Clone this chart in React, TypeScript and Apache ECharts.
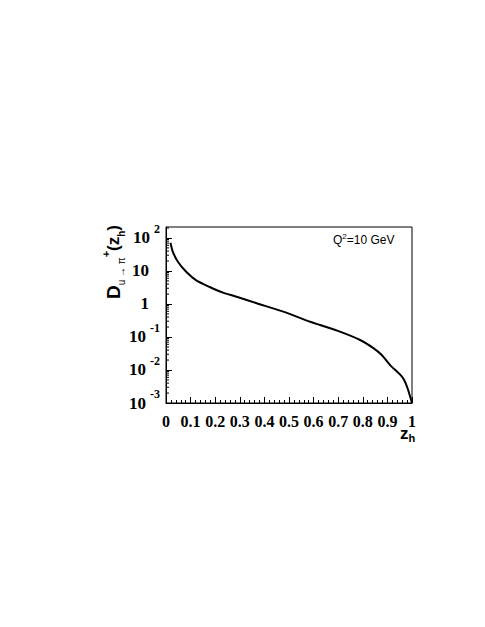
import React, { useEffect, useRef } from "react";
import * as echarts from "echarts";

const zValues = [0.018, 0.028, 0.049, 0.083, 0.123, 0.178, 0.232, 0.287, 0.369, 0.477, 0.585, 0.626, 0.707, 0.789, 0.843, 0.877, 0.911, 0.953, 0.968, 0.982, 1.0];
const dValues = [72, 37.7, 18.7, 9.3, 5.2, 3.27, 2.2, 1.66, 1.05, 0.585, 0.29, 0.23, 0.145, 0.081, 0.046, 0.0285, 0.0141, 0.0071, 0.005, 0.0028, 0.001];
const yMin = 0.001;
const yMax = 215;
const xTickLabels = ["0", "0.1", "0.2", "0.3", "0.4", "0.5", "0.6", "0.7", "0.8", "0.9", "1"];
const yMinorTickValues: number[] = [];
for (let k = -3; k <= 2; k++) {
  for (let m = 2; m <= 9; m++) {
    const v = m * Math.pow(10, k);
    if (v < yMax) yMinorTickValues.push(v);
  }
}

export default function App() {
  const ref = useRef<HTMLDivElement>(null);
  useEffect(() => {
    if (!ref.current) return;
    const chart = echarts.init(ref.current, null, { renderer: "svg" });
    const serif = "Liberation Serif";
    const sans = "Liberation Sans";
    chart.setOption({
      animation: false,
      backgroundColor: "#fff",
      grid: {
        left: 166,
        top: 227,
        width: 246,
        height: 176,
        show: true,
        borderColor: "#000",
        borderWidth: 1,
        backgroundColor: "transparent",
      },
      xAxis: {
        type: "value",
        min: 0,
        max: 1,
        interval: 0.1,
        axisLine: { show: true, onZero: false, lineStyle: { color: "#000", width: 1 } },
        axisTick: { show: true, inside: true, length: 6, lineStyle: { color: "#000" } },
        minorTick: { show: true, splitNumber: 5, length: 3, lineStyle: { color: "#000" } },
        splitLine: { show: false },
        axisLabel: {
          margin: 10,
          fontFamily: serif,
          fontWeight: "bold",
          fontSize: 16,
          color: "#000",
          formatter: (v: number) => xTickLabels[Math.round(v * 10)] ?? "",
        },
      },
      yAxis: {
        type: "log",
        logBase: 10,
        min: yMin,
        max: yMax,
        axisLine: { show: true, lineStyle: { color: "#000", width: 1 } },
        axisTick: { show: true, inside: true, length: 6, lineStyle: { color: "#000" } },
        splitLine: { show: false },
        axisLabel: {
          margin: 6,
          showMaxLabel: false,
          color: "#000",
          formatter: (v: number) => {
            const e = Math.log10(v);
            const r = Math.round(e);
            if (Math.abs(e - r) > 1e-6) return "";
            if (r === 0) return "{b|1}{pad|}";
            if (r === 1) return "{b|10}{pad|}";
            return "{b|10}{e|" + r + "}";
          },
          rich: {
            b: { fontFamily: serif, fontWeight: "bold", fontSize: 17, lineHeight: 30, color: "#000" },
            e: { fontFamily: serif, fontWeight: "bold", fontSize: 12, lineHeight: 12, verticalAlign: "top", color: "#000", padding: [0, 0, 0, 4] },
            pad: { width: 11 },
          },
        },
      },
      graphic: [
        {
          type: "text",
          x: 113,
          y: 262,
          rotation: Math.PI / 2,
          style: {
            text: "{D|D}{s|u → π}{p|+}{n|(z}{s2|h}{n|)}",
            align: "center",
            verticalAlign: "middle",
            fill: "#000",
            rich: {
              D: { fontFamily: sans, fontWeight: "bold", fontSize: 19, lineHeight: 26, fill: "#000" },
              s: { fontFamily: sans, fontSize: 10, lineHeight: 12, verticalAlign: "bottom", fill: "#000" },
              p: { fontFamily: sans, fontWeight: "bold", fontSize: 11, lineHeight: 12, verticalAlign: "top", fill: "#000" },
              n: { fontFamily: sans, fontWeight: "bold", fontSize: 17, lineHeight: 26, fill: "#000" },
              s2: { fontFamily: sans, fontWeight: "bold", fontSize: 10, lineHeight: 12, verticalAlign: "bottom", fill: "#000" },
            },
          },
        },
        {
          type: "text",
          x: 333,
          y: 240,
          style: {
            text: "{q|Q}{t|2}{q|=10 GeV}",
            verticalAlign: "middle",
            fill: "#000",
            rich: {
              q: { fontFamily: sans, fontSize: 12, lineHeight: 16, fill: "#000" },
              t: { fontFamily: sans, fontSize: 8, lineHeight: 10, verticalAlign: "top", fill: "#000" },
            },
          },
        },
        {
          type: "text",
          x: 400,
          y: 433,
          style: {
            text: "{z|z}{h|h}",
            verticalAlign: "middle",
            fill: "#000",
            rich: {
              z: { fontFamily: sans, fontWeight: "bold", fontSize: 17, lineHeight: 20, fill: "#000" },
              h: { fontFamily: sans, fontWeight: "bold", fontSize: 11, lineHeight: 12, verticalAlign: "bottom", fill: "#000" },
            },
          },
        },
      ],
      series: [
        {
          type: "custom",
          silent: true,
          clip: false,
          data: yMinorTickValues.map((v) => [0, v]),
          renderItem: (params: any, api: any) => {
            const c = api.coord([0, api.value(1)]);
            return {
              type: "line",
              shape: { x1: c[0], y1: c[1], x2: c[0] + 3, y2: c[1] },
              style: { stroke: "#000", lineWidth: 1 },
            };
          },
        },
        {
          type: "line",
          showSymbol: false,
          smooth: 0.2,
          data: zValues.map((z, i) => [z, dValues[i]]),
          lineStyle: { color: "#000", width: 2 },
          itemStyle: { color: "#000" },
        },
      ],
    });
    return () => chart.dispose();
  }, []);
  return (
    <div
      ref={ref}
      style={{ position: "fixed", left: 0, top: 0, width: 485, height: 627, background: "#fff" }}
    />
  );
}
